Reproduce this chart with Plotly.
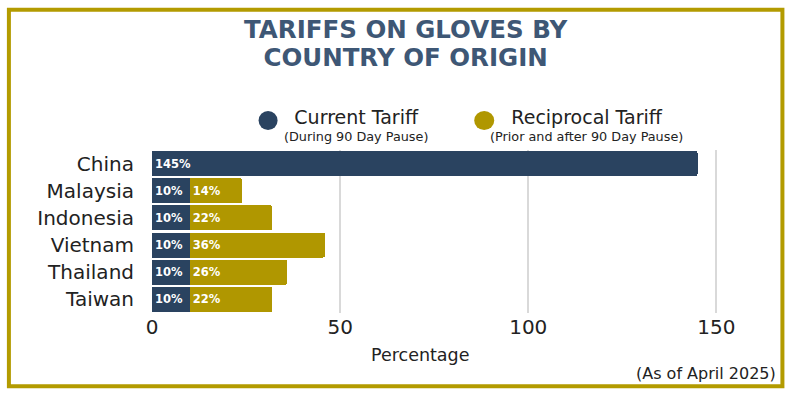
import plotly.graph_objects as go

countries = ["China", "Malaysia", "Indonesia", "Vietnam", "Thailand", "Taiwan"]
current_tariff = [145, 10, 10, 10, 10, 10]
reciprocal_tariff = [None, 14, 22, 36, 26, 22]
x_ticks = [0, 50, 100, 150]

DARK = "#2a4360"
GOLD = "#b09700"
TITLE_C = "#3e5775"
TXT = "#222222"

W, H = 792, 393
L, R, T, B = 152, 38.4, 149.5, 80.3
pw, ph = W - L - R, H - T - B


def px(xp):
    return (xp - L) / pw


def py(yp):
    return (H - B - yp) / ph


lab_font = "DejaVu Sans, sans-serif"
bar_font = dict(family="DejaVu Sans, sans-serif", size=11.5, color="white", weight="bold")

fig = go.Figure()
fig.add_trace(go.Bar(
    y=countries, x=current_tariff, orientation="h", name="Current Tariff",
    marker=dict(color=DARK, line=dict(width=0)),
    text=[f"{v}%" for v in current_tariff], textposition="inside",
    insidetextanchor="start", textfont=bar_font, showlegend=False,
))
fig.add_trace(go.Bar(
    y=countries, x=reciprocal_tariff, orientation="h", name="Reciprocal Tariff",
    marker=dict(color=GOLD, line=dict(width=0)),
    text=[f"{v}%" if v is not None else "" for v in reciprocal_tariff], textposition="inside",
    insidetextanchor="start", textfont=bar_font, showlegend=False,
))

shapes = [
    dict(type="rect", xref="paper", yref="paper",
         x0=px(9), x1=px(782), y0=py(386), y1=py(9),
         line=dict(color="#b39b00", width=4), layer="above"),
    dict(type="circle", xref="paper", yref="paper",
         x0=px(258.5), x1=px(277.5), y0=py(129.5), y1=py(110.5),
         fillcolor=DARK, line=dict(width=0)),
    dict(type="circle", xref="paper", yref="paper",
         x0=px(474), x1=px(494), y0=py(129.5), y1=py(110.5),
         fillcolor=GOLD, line=dict(width=0)),
]

title_text = ("<span style='font-size:24.5px'><b>TARIFFS ON GLOVES BY</b></span><br>"
              "<span style='font-size:24.5px'><b>COUNTRY OF ORIGIN</b></span>")
leg1 = ("<span style='font-size:19px'>Current Tariff</span><br>"
        "(During 90 Day Pause)")
leg2 = ("<span style='font-size:19px'>Reciprocal Tariff</span><br>"
        "(Prior and after 90 Day Pause)")

annotations = [
    dict(text=title_text, x=px(405), y=py(43), xref="paper", yref="paper",
         showarrow=False, xanchor="center", yanchor="middle", align="center",
         font=dict(family="DejaVu Sans, sans-serif", size=21.5, color=TITLE_C)),
    dict(text=leg1, x=px(356), y=py(124), xref="paper", yref="paper",
         showarrow=False, xanchor="center", yanchor="middle", align="center",
         font=dict(family=lab_font, size=12.8, color=TXT)),
    dict(text=leg2, x=px(586), y=py(124), xref="paper", yref="paper",
         showarrow=False, xanchor="center", yanchor="middle", align="center",
         font=dict(family=lab_font, size=12.8, color=TXT)),
    dict(text="Percentage", x=px(420), y=py(355), xref="paper", yref="paper",
         showarrow=False, xanchor="center", yanchor="middle",
         font=dict(family=lab_font, size=17.5, color=TXT)),
    dict(text="(As of April 2025)", x=px(778), y=py(373), xref="paper", yref="paper",
         showarrow=False, xanchor="right", yanchor="middle",
         font=dict(family=lab_font, size=16, color=TXT)),
]

fig.update_layout(
    width=W, height=H,
    margin=dict(l=L, r=R, t=T, b=B, pad=0),
    paper_bgcolor="white", plot_bgcolor="white",
    barmode="stack", bargap=0.08, barcornerradius=2,
    shapes=shapes, annotations=annotations,
    uniformtext=dict(minsize=11, mode="show"),
    xaxis=dict(range=[0, 160], tickvals=x_ticks, showgrid=True, gridcolor="#d9d9d9", gridwidth=1.5,
               zeroline=False, showline=False, ticks="",
               tickfont=dict(family=lab_font, size=20, color=TXT)),
    yaxis=dict(categoryorder="array", categoryarray=countries, autorange="reversed",
               showgrid=False, zeroline=False, ticks="", ticklabelstandoff=17,
               tickfont=dict(family=lab_font, size=20, color=TXT)),
)

fig.write_html("out.html", config={"displayModeBar": False},
               post_script="document.body.style.margin='0px';")
